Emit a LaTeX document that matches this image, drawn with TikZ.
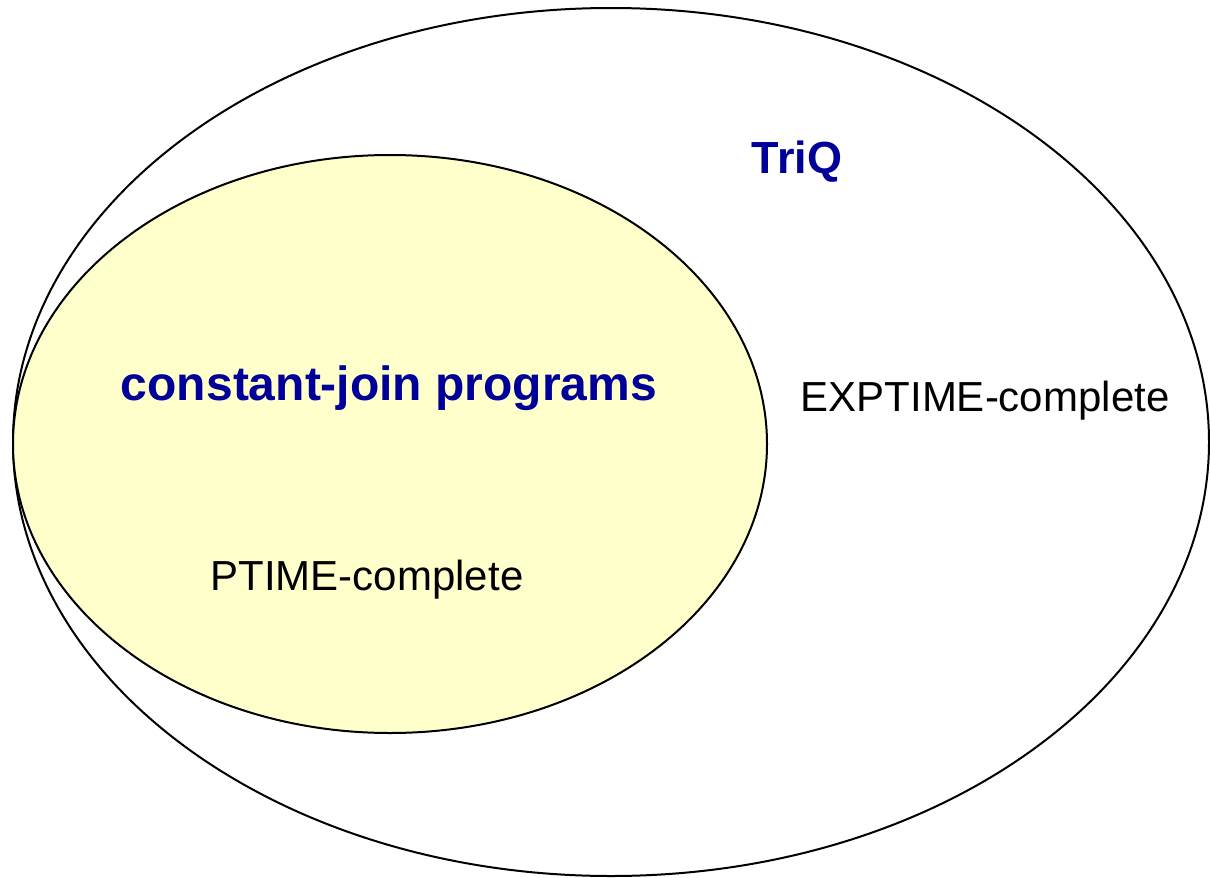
\documentclass[tikz,border=0pt]{standalone}
\usepackage{fontspec}
\setmainfont{Liberation Sans}
\definecolor{bleufonce}{RGB}{0,0,153}
\definecolor{jaunepale}{RGB}{255,255,204}

\begin{document}
\begin{tikzpicture}[x=1pt, y=-1pt]
\tikzset{ensemble/.style={draw, line width=2pt},
  titre/.style={font=\fontsize{47}{50}\selectfont\bfseries, text=bleufonce, anchor=base, inner sep=0pt},
  classe/.style={font=\fontsize{42}{46}\selectfont, anchor=base, inner sep=0pt}}
\useasboundingbox (0, 0) rectangle (1210, 878);
\draw[ensemble, fill=white] (611, 442) ellipse [x radius=598, y radius=434];
\draw[ensemble, fill=jaunepale] (390, 444) ellipse [x radius=377, y radius=289];
\node[titre, font=\fontsize{45}{50}\selectfont\bfseries] (T1) at (797, 173) {TriQ};
\node[titre, font=\fontsize{48}{50}\selectfont\bfseries] (T2) at (389, 400) {constant-join programs};
\node[classe] (C1) at (985, 411) {EXPTIME-complete};
\node[classe] (C2) at (367, 590) {PTIME-complete};
\end{tikzpicture}
\end{document}
